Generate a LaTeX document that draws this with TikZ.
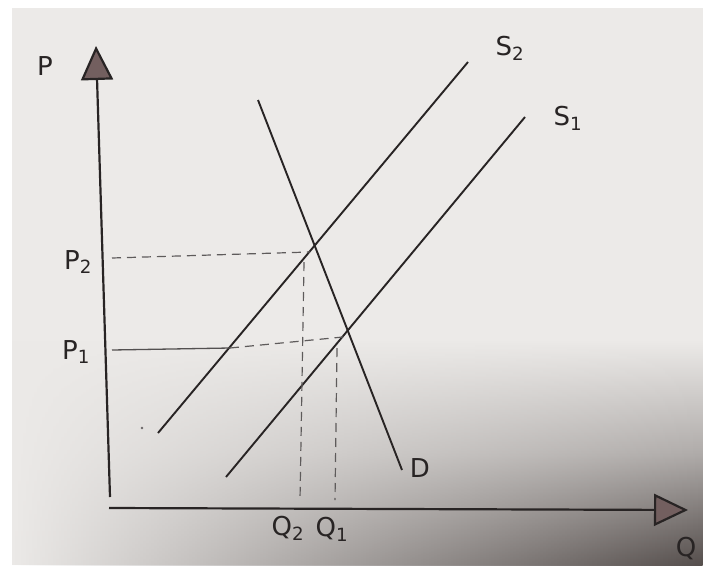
\documentclass[tikz,border=0pt]{standalone}
\usepackage{fontspec}
\setmainfont{DejaVu Sans}
\usetikzlibrary{arrows.meta,fadings}
\definecolor{paper}{RGB}{236,234,232}
\definecolor{ink}{RGB}{40,36,36}
\definecolor{shadow}{RGB}{85,78,76}
\definecolor{headfill}{RGB}{115,95,95}
\tikzfading[name=rightdark, left color=transparent!100, right color=transparent!0]
\tikzset{
  curve/.style={draw=ink, line width=1.9pt},
  axis/.style={draw=ink, line width=2.2pt, -{Triangle[width=32pt,length=34pt,fill=headfill]}},
  guide/.style={draw=ink!75, line width=1.2pt, dash pattern=on 9pt off 6pt},
  lab/.style={text=ink, font=\fontsize{26}{28}\selectfont, inner sep=0pt}
}
\begin{document}
\begin{tikzpicture}[x=1pt,y=-1pt]
\useasboundingbox (0,0) rectangle (703,565);
\fill[white] (0,0) rectangle (703,565);
\fill[paper] (12,8) rectangle (703,565);
\shade[top color=paper, bottom color=shadow, middle color=paper!60!shadow, path fading=rightdark] (12,340) rectangle (703,565);
% coordinates
\coordinate (O) at (109,508);
\coordinate (Ytop) at (96,46);
\coordinate (Yb) at (110,497);
\coordinate (Xend) at (688,510);
\coordinate (Dtop) at (258,100);
\coordinate (Dbot) at (402,470);
\coordinate (S2a) at (158,433);
\coordinate (S2b) at (468,62);
\coordinate (S1a) at (226,477);
\coordinate (S1b) at (525,117);
\coordinate (E2) at (310,252);
\coordinate (E1) at (343,337);
\coordinate (P2y) at (112,258);
\coordinate (P1y) at (112,350);
\coordinate (P1m) at (230,348);
\coordinate (Q2x) at (300,500);
\coordinate (Q1x) at (335,500);
\coordinate (Q2t) at (304,262);
\coordinate (Q1t) at (337,348);
% axes
\draw[axis] (Yb) -- (Ytop);
\draw[axis] (O) -- (Xend);
% curves
\draw[curve] (Dtop) -- (Dbot);
\draw[curve] (S2a) -- (S2b);
\draw[curve] (S1a) -- (S1b);
% guides
\draw[guide] (P2y) -- (E2);
\draw[draw=ink!80, line width=1.3pt] (P1y) -- (P1m);
\draw[guide] (P1m) -- (E1);
\draw[guide] (Q2t) -- (Q2x);
\draw[guide] (Q1t) -- (Q1x);
\fill[ink!70] (142,428) circle (1.3pt);
% labels
\node[lab] (lP) at (45,66) {P};
\node[lab] (lP2) at (78,262) {P\textsubscript{2}};
\node[lab] (lP1) at (76,352) {P\textsubscript{1}};
\node[lab] (lS2) at (510,48) {S\textsubscript{2}};
\node[lab] (lS1) at (568,118) {S\textsubscript{1}};
\node[lab] (lD) at (420,468) {D};
\node[lab] (lQ2) at (288,528) {Q\textsubscript{2}};
\node[lab] (lQ1) at (332,529) {Q\textsubscript{1}};
\node[lab] (lQ) at (686,549) {Q};
\end{tikzpicture}
\end{document}
